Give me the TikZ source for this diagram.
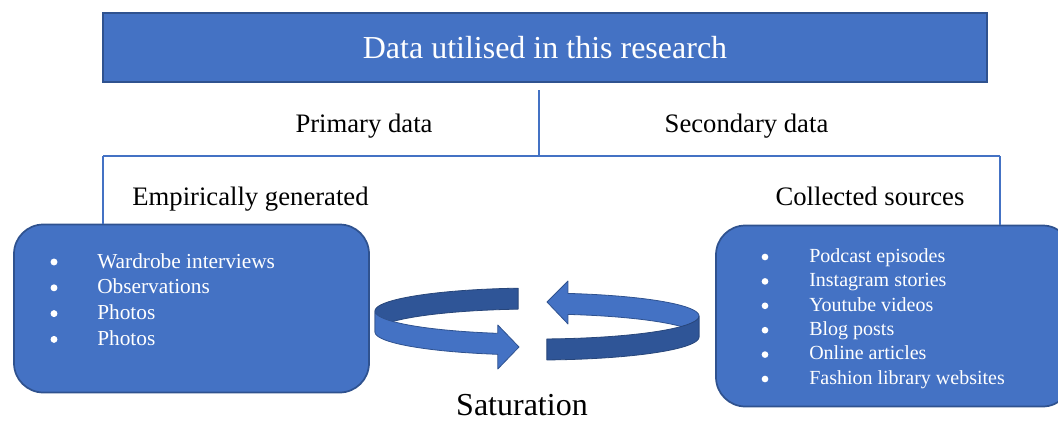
\documentclass[tikz,border=0pt]{standalone}
\usepackage{fontspec}
\setmainfont{Liberation Serif}
\definecolor{accent}{HTML}{4472C4}
\definecolor{accentdark}{HTML}{2F5597}
\definecolor{accentline}{HTML}{2F528F}
\begin{document}
\begin{tikzpicture}[x=0.75pt, y=-0.75pt,
  topbox/.style={draw=accentline, line width=1.1pt, fill=accent, text=white,
    inner sep=0, font=\fontsize{24}{28}\selectfont},
  listbox/.style={draw=accentline, line width=1.3pt, fill=accent,
    rounded corners=22pt, inner sep=0},
  link/.style={draw=accent, line width=0.8pt},
  heading/.style={anchor=base, inner sep=0, font=\fontsize{20}{24}\selectfont},
  itemtext/.style={anchor=base west, inner sep=0, text=white},
  dot/.style={circle, fill=white, inner sep=0},
  ribbonlight/.style={fill=accent, draw=accentline, line width=0.6pt, line join=round},
  ribbondark/.style={fill=accentdark, draw=accentline!85!black, line width=0.6pt, line join=round}]
\clip (0,0) rectangle (1058,421);

% title bar
\node[topbox, minimum width=663pt, minimum height=51.75pt] (title) at (545,47.5)
  {Data utilised in this research};

% source boxes
\node[listbox, minimum width=266.25pt, minimum height=126pt] (lbox) at (191.5,308.5) {};
\node[listbox, minimum width=267pt, minimum height=135.75pt] (rbox) at (894,316) {};

% branching lines
\coordinate (split top) at (539,90);
\coordinate (split) at (539,156);
\coordinate (left end) at (103,156);
\coordinate (right end) at (1000,156);
\draw[link] (split top) -- (split);
\draw[link] (left end) -- (right end);
\draw[link] (left end) -- (left end |- lbox.north);
\draw[link] (right end) -- (right end |- rbox.north);

% headings
\node[heading] (primary) at (364,132) {Primary data};
\node[heading] (secondary) at (746.5,132) {Secondary data};
\node[heading] (empirical) at (250.5,205) {Empirically generated};
\node[heading] (collected) at (870,205) {Collected sources};
\node[anchor=base, inner sep=0, font=\fontsize{24}{28}\selectfont] (saturation) at (522,415.5) {Saturation};

% primary items
\foreach \t [count=\i] in {Wardrobe interviews, Observations, Photos, Photos} {
  \node[dot, minimum size=5.2pt] (lb\i) at (54,{262+25.8*(\i-1)}) {};
  \node[itemtext, font=\fontsize{16}{19}\selectfont] (lt\i) at (97,{268+25.8*(\i-1)}) {\t};
}

% secondary items
\foreach \t [count=\i] in {Podcast episodes, Instagram stories, Youtube videos,
    Blog posts, Online articles, Fashion library websites} {
  \node[dot, minimum size=5pt] (rb\i) at (765,{257+24.4*(\i-1)}) {};
  \node[itemtext, font=\fontsize{15}{18}\selectfont] (rt\i) at (809,{262.2+24.4*(\i-1)}) {\t};
}

% cycling ribbon arrows: left arrow, back part then front part
\filldraw[ribbondark]
  plot[domain=96.7:180, samples=40] ({537+162*cos(\x)},{311-23*sin(\x)})
  -- plot[domain=180:96.7, samples=40] ({537+162*cos(\x)},{332-23*sin(\x)}) -- cycle;
\filldraw[ribbonlight]
  plot[domain=180:256, samples=40] ({537+162*cos(\x)},{311-23*sin(\x)})
  -- (497.8,325) -- (519,347) -- (497.8,369)
  -- plot[domain=256:180, samples=40] ({537+162*cos(\x)},{332-23*sin(\x)}) -- cycle;

% right arrow, back part then front part
\filldraw[ribbonlight]
  (567.9,293.4) -- (568,281) -- (547,302) -- (568,324)
  -- plot[domain=79:0, samples=40] ({537+162*cos(\x)},{337-23*sin(\x)})
  -- plot[domain=0:79, samples=40] ({537+162*cos(\x)},{316-23*sin(\x)}) -- cycle;
\filldraw[ribbondark]
  plot[domain=0:-86.5, samples=40] ({537+162*cos(\x)},{316-23*sin(\x)})
  -- plot[domain=-86.5:0, samples=40] ({537+162*cos(\x)},{337-23*sin(\x)}) -- cycle;
\end{tikzpicture}
\end{document}
